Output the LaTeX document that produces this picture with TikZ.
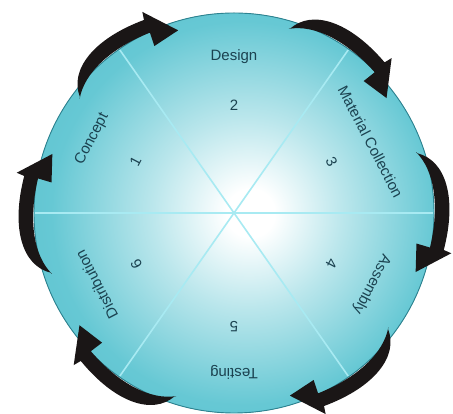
\documentclass[tikz,border=0pt]{standalone}
\usepackage{fontspec}
\setmainfont{Liberation Sans}
\usepackage{xcolor}
\usepackage{tikz}
\usetikzlibrary{positioning}
\definecolor{discteal}{HTML}{45B6C6}
\definecolor{discmid}{HTML}{66C8D4}
\definecolor{discrim}{HTML}{2C8391}
\definecolor{spokecyan}{HTML}{A8EAF2}
\definecolor{labelink}{HTML}{1B4250}
\definecolor{arrowink}{HTML}{1A1616}
\pgfdeclareradialshading{discglow}{\pgfpoint{2.2bp}{0bp}}{%
  color(0bp)=(white); color(3bp)=(white);
  color(12bp)=(discmid!45!white); color(24bp)=(discmid);
  color(50bp)=(discteal)}
% one curved step arrow, #1 = angle of its tail
\newcommand{\cyclearrow}[1]{%
  \fill[arrowink] (#1:193) .. controls (#1-4:218) and (#1-14:224) .. (#1-28:213)
    -- (#1-28.5:221) -- (#1-36:191) -- (#1-27.5:185) -- (#1-28:199)
    .. controls (#1-16:206) and (#1-6:205) .. (#1+0.5:192) -- cycle;}

\begin{document}
\begin{tikzpicture}[
  x=1pt,y=1pt,
  every node/.style={font=\fontsize{15}{17}\selectfont,text=labelink,inner sep=1pt},
  stage/.style={anchor=center},
  stepnum/.style={anchor=center},
  spoke/.style={draw=spokecyan,line width=1.6pt}
]
  \useasboundingbox (0,0) rectangle (453,414);
  \coordinate (c) at (234,201);
  \begin{scope}[shift={(c)}]
    % disc
    \fill[shading=discglow] (0,0) circle (200);
    \draw[spoke] (180:199) -- (0:199);
    \draw[spoke] (125:199) -- (305:199);
    \draw[spoke] (55:199) -- (235:199);
    \draw[discrim,line width=0.9pt] (0,0) circle (200);
    % stages
    \node[stage,rotate=0] (design) at (90:156) {Design};
    \node[stage,rotate=-62.5] (matcol) at (27.5:154) {Material Collection};
    \node[stage,rotate=-117.5] (assembly) at (-27.5:155) {Assembly};
    \node[stage,rotate=180] (testing) at (-90:159) {Testing};
    \node[stage,rotate=117.5] (distrib) at (207.5:155) {Distribution};
    \node[stage,rotate=62.5] (concept) at (152.5:160) {Concept};
    \node[stepnum,rotate=62.5] (n1) at (152.5:111) {1};
    \node[stepnum,rotate=0] (n2) at (90:108) {2};
    \node[stepnum,rotate=-62.5] (n3) at (27.5:110) {3};
    \node[stepnum,rotate=-117.5] (n4) at (-27.5:110) {4};
    \node[stepnum,rotate=180] (n5) at (-90:114) {5};
    \node[stepnum,rotate=117.5] (n6) at (207.5:110) {6};
    % arrows round the rim
    \cyclearrow{143}
    \cyclearrow{73}
    \cyclearrow{18}
    \cyclearrow{-37}
    \cyclearrow{-108}
    \cyclearrow{198}
  \end{scope}
\end{tikzpicture}
\end{document}
